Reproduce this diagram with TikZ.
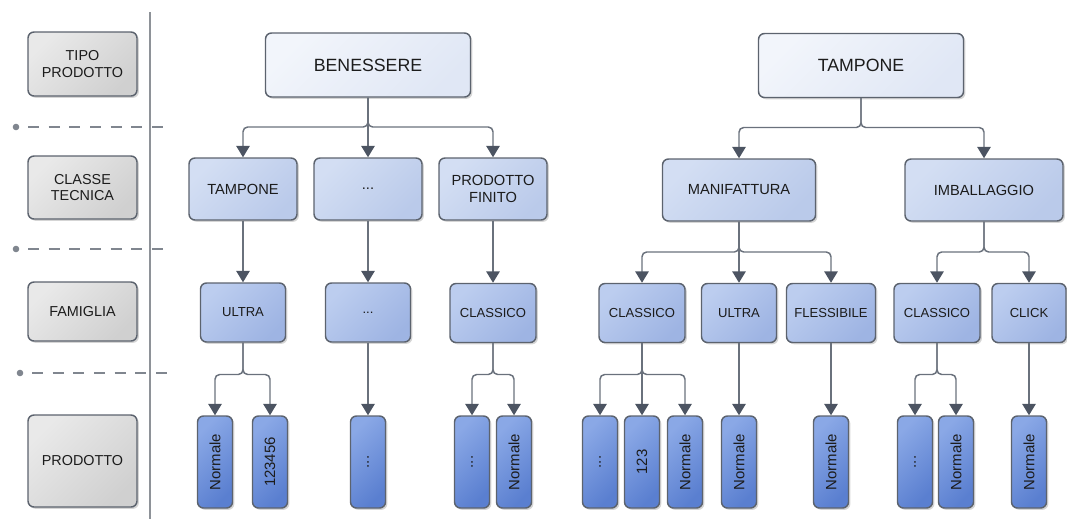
\documentclass[tikz,border=0pt]{standalone}
\usepackage{fontspec}
\setmainfont{Liberation Sans}
\usetikzlibrary{arrows.meta,shadows}

\definecolor{txt}{HTML}{1C1C1C}
\definecolor{boxline}{HTML}{5C636E}
\definecolor{conncol}{HTML}{6A717C}
\definecolor{tipcol}{HTML}{4C5462}
\definecolor{sepcol}{HTML}{8E9298}
\definecolor{dashcol}{HTML}{80868F}
\definecolor{grayA}{HTML}{E9E9E9}
\definecolor{grayB}{HTML}{D0D0D0}
\definecolor{topA}{HTML}{F2F5FB}
\definecolor{topB}{HTML}{E0E7F5}
\definecolor{clsA}{HTML}{D3DEF3}
\definecolor{clsB}{HTML}{BACAEA}
\definecolor{famA}{HTML}{BCCDEF}
\definecolor{famB}{HTML}{9EB4E3}
\definecolor{prdA}{HTML}{8AA8E6}
\definecolor{prdB}{HTML}{5A7FD0}

\tikzset{
  sz/.style 2 args={minimum width=#1*0.75pt, minimum height=#2*0.75pt},
  box/.style={draw=boxline, line width=1.1pt, rounded corners=4.5pt,
    inner sep=0pt, align=center, text=txt,
    drop shadow={shadow xshift=1.4pt, shadow yshift=-1.4pt, opacity=0.3, fill=black!55}},
  legendbox/.style={box, left color=grayA, right color=grayB, shading angle=45,
    font=\fontsize{10.8}{12.5}\selectfont},
  topbox/.style={box, left color=topA, right color=topB, shading angle=45,
    font=\fontsize{13.3}{15}\selectfont, sz={205}{64}},
  clsbox/.style={box, left color=clsA, right color=clsB, shading angle=45,
    font=\fontsize{11}{13}\selectfont},
  fambox/.style={box, left color=famA, right color=famB, shading angle=45,
    font=\fontsize{9.8}{12}\selectfont, minimum height=59*0.75pt},
  prdbox/.style={box, left color=prdA, right color=prdB, shading angle=45,
    font=\fontsize{11.2}{12}\selectfont, sz={35}{92}},
  conn/.style={draw=conncol, line width=1.1pt, rounded corners=3.5pt,
    -{Triangle[length=8.5pt,width=10pt,color=tipcol]}},
  levelsep/.style={draw=dashcol, line width=1.6pt, dash pattern=on 8.2pt off 7.3pt},
}

\begin{document}
\begin{tikzpicture}[x=0.75pt,y=-0.75pt]
\useasboundingbox (0,0) rectangle (1067,519);

% ---- legend column ----
\node[legendbox, sz={109}{64}] (lg1) at (82.5,64)   {TIPO\\PRODOTTO};
\node[legendbox, sz={109}{63}] (lg2) at (82.5,187.5) {CLASSE\\TECNICA};
\node[legendbox, sz={109}{59}] (lg3) at (82.5,311.5) {FAMIGLIA};
\node[legendbox, sz={109}{92}] (lg4) at (82.5,461)   {PRODOTTO};

% vertical separator
\coordinate (vtop) at (150,12);
\coordinate (vbot) at (150,519);
\draw[draw=sepcol, line width=0.9pt] (vtop) -- (vbot);

% level separators
\foreach \yy/\xx in {127/16, 249/16, 373/20} {
  \fill[dashcol] (\xx,\yy) circle (3.3*0.75pt);
  \draw[levelsep] (\xx+12,\yy) -- (168,\yy);
}

% ---- product types ----
\node[topbox] (ben) at (368,65) {BENESSERE};
\node[topbox] (tam) at (861,65.5) {TAMPONE};

% ---- technical classes ----
\node[clsbox, sz={108}{62}] (c1) at (243,189)   {TAMPONE};
\node[clsbox, sz={108}{62}] (c2) at (368,189)   {...};
\node[clsbox, sz={108}{62}] (c3) at (493,189)   {PRODOTTO\\FINITO};
\node[clsbox, sz={153}{62}] (c4) at (739,190)   {MANIFATTURA};
\node[clsbox, sz={158}{62}] (c5) at (984,190)   {IMBALLAGGIO};

% ---- families ----
\node[fambox, minimum width=85*0.75pt] (f1) at (243,312.5) {ULTRA};
\node[fambox, minimum width=85*0.75pt] (f2) at (368,312.5) {...};
\node[fambox, minimum width=86*0.75pt] (f3) at (493,313)   {CLASSICO};
\node[fambox, minimum width=86*0.75pt] (f4) at (642,313)   {CLASSICO};
\node[fambox, minimum width=75*0.75pt] (f5) at (739,313)   {ULTRA};
\node[fambox, minimum width=89*0.75pt] (f6) at (831,313)   {FLESSIBILE};
\node[fambox, minimum width=86*0.75pt] (f7) at (937,313)   {CLASSICO};
\node[fambox, minimum width=74*0.75pt] (f8) at (1029,313)  {CLICK};

% ---- products ----
\node[prdbox] (p1)  at (215,462)  {\rotatebox{90}{Normale}};
\node[prdbox] (p2)  at (270,462)  {\rotatebox{90}{123456}};
\node[prdbox] (p3)  at (368,462)  {\rotatebox{90}{...}};
\node[prdbox] (p4)  at (472,462)  {\rotatebox{90}{...}};
\node[prdbox] (p5)  at (514,462)  {\rotatebox{90}{Normale}};
\node[prdbox] (p6)  at (600,462)  {\rotatebox{90}{...}};
\node[prdbox] (p7)  at (642,462)  {\rotatebox{90}{123}};
\node[prdbox] (p8)  at (685,462)  {\rotatebox{90}{Normale}};
\node[prdbox] (p9)  at (739,462)  {\rotatebox{90}{Normale}};
\node[prdbox] (p10) at (831,462)  {\rotatebox{90}{Normale}};
\node[prdbox] (p11) at (915,462)  {\rotatebox{90}{...}};
\node[prdbox] (p12) at (956,462)  {\rotatebox{90}{Normale}};
\node[prdbox] (p13) at (1029,462) {\rotatebox{90}{Normale}};

% ---- bus levels ----
\coordinate (busA) at (0,127);
\coordinate (busB) at (0,127.5);
\coordinate (busC) at (0,252);
\coordinate (busD) at (0,374.5);

% product types -> classes
\draw[conn] (ben.south) -- (ben.south |- busA) -- (c1.north |- busA) -- (c1.north);
\draw[conn] (ben.south) -- (c2.north);
\draw[conn] (ben.south) -- (ben.south |- busA) -- (c3.north |- busA) -- (c3.north);
\draw[conn] (tam.south) -- (tam.south |- busB) -- (c4.north |- busB) -- (c4.north);
\draw[conn] (tam.south) -- (tam.south |- busB) -- (c5.north |- busB) -- (c5.north);

% classes -> families
\draw[conn] (c1.south) -- (f1.north);
\draw[conn] (c2.south) -- (f2.north);
\draw[conn] (c3.south) -- (f3.north);
\draw[conn] (c4.south) -- (c4.south |- busC) -- (f4.north |- busC) -- (f4.north);
\draw[conn] (c4.south) -- (f5.north);
\draw[conn] (c4.south) -- (c4.south |- busC) -- (f6.north |- busC) -- (f6.north);
\draw[conn] (c5.south) -- (c5.south |- busC) -- (f7.north |- busC) -- (f7.north);
\draw[conn] (c5.south) -- (c5.south |- busC) -- (f8.north |- busC) -- (f8.north);

% families -> products
\draw[conn] (f1.south) -- (f1.south |- busD) -- (p1.north |- busD) -- (p1.north);
\draw[conn] (f1.south) -- (f1.south |- busD) -- (p2.north |- busD) -- (p2.north);
\draw[conn] (f2.south) -- (p3.north);
\draw[conn] (f3.south) -- (f3.south |- busD) -- (p4.north |- busD) -- (p4.north);
\draw[conn] (f3.south) -- (f3.south |- busD) -- (p5.north |- busD) -- (p5.north);
\draw[conn] (f4.south) -- (f4.south |- busD) -- (p6.north |- busD) -- (p6.north);
\draw[conn] (f4.south) -- (p7.north);
\draw[conn] (f4.south) -- (f4.south |- busD) -- (p8.north |- busD) -- (p8.north);
\draw[conn] (f5.south) -- (p9.north);
\draw[conn] (f6.south) -- (p10.north);
\draw[conn] (f7.south) -- (f7.south |- busD) -- (p11.north |- busD) -- (p11.north);
\draw[conn] (f7.south) -- (f7.south |- busD) -- (p12.north |- busD) -- (p12.north);
\draw[conn] (f8.south) -- (p13.north);

\end{tikzpicture}
\end{document}
